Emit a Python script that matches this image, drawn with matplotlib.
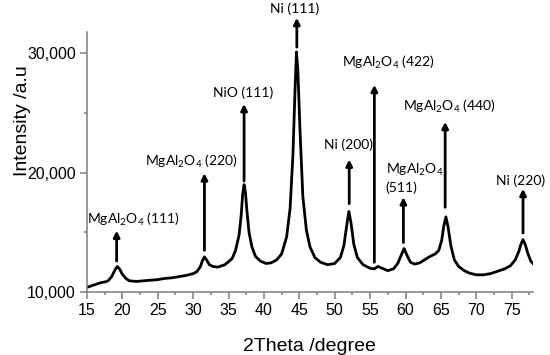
import matplotlib
matplotlib.use("Agg")
import matplotlib.pyplot as plt
from matplotlib.ticker import MultipleLocator, FuncFormatter

plt.rcParams.update({'font.family': 'Liberation Sans',
                     'mathtext.fontset': 'custom',
                     'mathtext.rm': 'Lato',
                     'mathtext.it': 'Lato:italic',
                     'mathtext.bf': 'Lato:bold'})

# XRD pattern
two_theta = [15.0, 15.5, 16.0, 16.5, 17.0, 17.5, 18.0, 18.5, 19.0, 19.3, 19.6, 20.0,
             20.5, 21.0, 22.0, 23.0, 24.0, 25.0, 26.0, 27.0, 28.0, 29.0, 30.0, 30.5,
             31.0, 31.3, 31.6, 31.9, 32.3, 32.8, 33.5, 34.5, 35.5, 36.0, 36.5, 36.8,
             37.0, 37.2, 37.4, 37.6, 37.9, 38.3, 38.8, 39.5, 40.3, 41.0, 41.8, 42.5,
             43.2, 43.7, 44.1, 44.4, 44.6, 44.8, 45.1, 45.5, 46.0, 46.5, 47.2, 48.0,
             49.0, 50.0, 50.8, 51.3, 51.7, 52.0, 52.3, 52.7, 53.2, 54.0, 55.0, 55.6,
             56.1, 56.7, 57.5, 58.3, 58.9, 59.4, 59.8, 60.2, 60.7, 61.3, 62.0, 62.8,
             63.5, 64.2, 64.7, 65.1, 65.4, 65.7, 66.0, 66.4, 66.9, 67.5, 68.3, 69.0,
             70.0, 71.0, 72.0, 73.0, 74.0, 74.8, 75.5, 76.0, 76.3, 76.6, 76.9, 77.3,
             77.7, 78.0]
intensity = [10400, 10500, 10600, 10700, 10800, 10850, 10950, 11300, 11900, 12150, 11950, 11500,
             11150, 10950, 10900, 10950, 11000, 11050, 11150, 11200, 11300, 11400, 11550, 11700,
             12100, 12600, 12950, 12700, 12300, 12150, 12100, 12300, 12800, 13500, 14800, 16500,
             18200, 19000, 18300, 16800, 15000, 13800, 13000, 12600, 12400, 12450, 12700, 13200,
             14600, 17000, 21500, 27000, 30100, 28500, 23500, 18000, 15200, 13800, 12900, 12500,
             12300, 12400, 12900, 13900, 15600, 16750, 15800, 14000, 12900, 12300, 12000, 11950,
             12150, 12000, 11800, 11950, 12400, 13100, 13650, 13100, 12500, 12350, 12450, 12750,
             13000, 13200, 13500, 14300, 15500, 16300, 15500, 13900, 12700, 12150, 11800, 11600,
             11450, 11450, 11550, 11750, 11950, 12200, 12700, 13400, 14000, 14400, 14000, 13200,
             12600, 12400]

# peak labels and arrows (arrow x, arrow start, arrow tip)
peak_labels = ['MgAl$_\\mathregular{2}$O$_\\mathregular{4}$ (111)',
               'MgAl$_\\mathregular{2}$O$_\\mathregular{4}$ (220)',
               'NiO (111)',
               'Ni (111)',
               'Ni (200)',
               'MgAl$_\\mathregular{2}$O$_\\mathregular{4}$ (422)',
               'MgAl$_\\mathregular{2}$O$_\\mathregular{4}$\n(511)',
               'MgAl$_\\mathregular{2}$O$_\\mathregular{4}$ (440)',
               'Ni (220)']
peak_pos = [19.2, 31.6, 37.2, 44.65, 52.05, 55.6, 59.7, 65.6, 76.6]
arrow_from = [12600, 13500, 19300, 30500, 17400, 12500, 14150, 17100, 14950]
arrow_to = [15150, 19950, 25750, 32950, 21100, 27350, 17950, 24250, 18650]
label_x = [21.5, 29.7, 37.05, 44.4, 51.95, 57.6, 57.2, 66.2, 76.3]
label_y = [16100, 20900, 26650, 33700, 22300, 29200, 19550, 25500, 19350]

fig = plt.figure(figsize=(5.5, 3.55), dpi=100)
ax = fig.add_axes([0.158, 0.177, 0.811, 0.733])

ax.plot(two_theta, intensity, color='black', lw=2.0, solid_joinstyle='round')

for i in range(len(peak_labels)):
    ax.annotate('', xy=(peak_pos[i], arrow_to[i]), xytext=(peak_pos[i], arrow_from[i]),
                arrowprops=dict(arrowstyle='-|>', color='black', lw=2,
                                mutation_scale=9, shrinkA=0, shrinkB=0),
                annotation_clip=False)
    if '\n' in peak_labels[i]:
        ax.text(label_x[i], label_y[i], peak_labels[i], family='Lato', fontsize=10,
                ha='left', va='center', linespacing=1.25, clip_on=False)
    else:
        ax.text(label_x[i], label_y[i], peak_labels[i], family='Lato', fontsize=10,
                ha='center', va='center', clip_on=False)

ax.set_xlim(15, 78)
ax.set_ylim(10000, 31770)
ax.xaxis.set_major_locator(MultipleLocator(5))
ax.xaxis.set_minor_locator(MultipleLocator(2.5))
ax.yaxis.set_major_locator(MultipleLocator(10000))
ax.yaxis.set_minor_locator(MultipleLocator(5000))
ax.yaxis.set_major_formatter(FuncFormatter(lambda v, p: '{:,.0f}'.format(v)))

for s in ['top', 'right']:
    ax.spines[s].set_visible(False)
for s in ['left', 'bottom']:
    ax.spines[s].set_color('#7f7f7f')
    ax.spines[s].set_linewidth(1.1)
ax.tick_params(which='major', direction='out', length=5, width=1.1, color='#7f7f7f',
               labelsize=11.5, pad=3)
ax.tick_params(which='minor', direction='out', length=2.5, width=1.1, color='#7f7f7f')

ax.set_xlabel('2Theta /degree', fontsize=14)
ax.set_ylabel('Intensity /a.u', fontsize=14)
ax.yaxis.set_label_coords(-0.126, 0.66)
ax.xaxis.set_label_coords(0.5, -0.175)

fig.savefig('out.png', dpi=100)
